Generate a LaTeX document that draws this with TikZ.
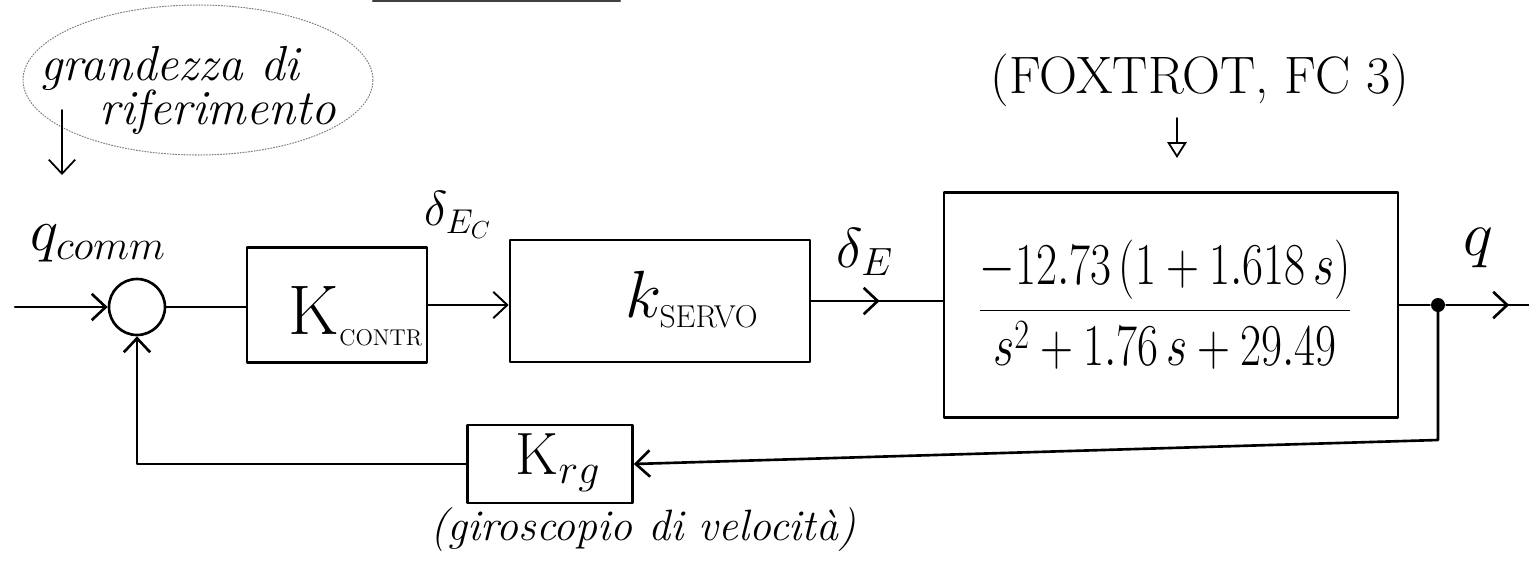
\RequirePackage{fix-cm}
\documentclass[tikz,border=0pt]{standalone}
\usepackage{fontspec}
\usetikzlibrary{arrows.meta,decorations.markings}
\newcommand\fsz[1]{\fontsize{#1}{#1}\selectfont}
\begin{document}
\begin{tikzpicture}[x=0.02cm,y=-0.02cm,
  line width=1.5pt, line cap=round, line join=round,
  blk/.style={draw, rectangle, inner sep=0pt},
  lbl/.style={inner sep=0pt},
  barb/.style={-{Straight Barb[length=8pt,width=15pt]}},
  midbarb/.style={postaction={decorate},
    decoration={markings, mark=at position #1 with {\arrow{Straight Barb[length=8pt,width=15pt]}}}},
]
\useasboundingbox (0,0) rectangle (1529,562);

% stroke along the upper edge of the sheet
\draw[line width=1.2pt, black!75] (373,1) -- (620,1);

% reference input note
\draw[gray, line width=0.6pt, densely dotted] (198,80) ellipse [x radius=3.5cm, y radius=1.5cm];
\node[lbl, font=\fsz{28}\itshape] (g1) at (170,68) {grandezza di};
\node[lbl, font=\fsz{28}\itshape] (g2) at (218,112) {riferimento};
\coordinate (r1) at (62,110);
\coordinate (r2) at (62,175);
\draw[barb, line width=1pt] (r1) -- (r2);

% summing junction and input
\node[draw, circle, minimum size=1.12cm, inner sep=0pt] (sum) at (137,307) {};
\coordinate (in) at (15,307);
\node[lbl, font=\fsz{34}] (qc) at (98,243) {$q_{comm}$};

% forward path blocks
\node[blk, minimum width=3.6cm, minimum height=2.3cm] (kc) at (337,305) {};
\node[lbl, font=\fsz{40}] (kcl) at (356,316) {$\mathrm{K}_{\hbox{\fsz{13}CONTR}}$};

\node[blk, minimum width=6cm, minimum height=2.44cm] (sv) at (660,301) {};
\node[lbl, font=\fsz{38}] (svl) at (692,300) {$k_{\hbox{\fsz{18}SERVO}}$};

\node[blk, minimum width=9.08cm, minimum height=4.5cm] (pl) at (1171,305) {};
\node[lbl, font=\fsz{26}] (tf) at (1165,305)
  {\scalebox{1}[1.3]{$\displaystyle\frac{-12.73\,(1+1.618\,s)}{s^2+1.76\,s+29.49}$}};

% feedback block
\node[blk, minimum width=3.3cm, minimum height=1.56cm] (kr) at (550,464) {};
\node[lbl, font=\fsz{34}] (krl) at (558,463) {$\mathrm{K}_{rg}$};
\node[lbl, font=\fsz{25}\itshape] (gy) at (643,530) {(giroscopio di velocità)};

% output branch point
\node[circle, fill, inner sep=0pt, minimum size=0.28cm] (dot) at (1438,305) {};
\coordinate (out) at (1529,305);
\coordinate (fb) at (1438,440);

% signal labels
\node[lbl, font=\fsz{28}] (dec) at (458,215) {$\delta_{E_C}$};
\node[lbl, font=\fsz{32}] (de) at (865,252) {$\delta_E$};
\node[lbl, font=\fsz{36}] (qo) at (1478,248) {$q$};

% aircraft note
\node[lbl, font=\fsz{30}] (fx) at (1200,80) {(FOXTROT, FC 3)};
\coordinate (fa1) at (1177,118);
\coordinate (fa2) at (1177,158);
\draw[-{Triangle[open,length=9pt,width=11pt]}, line width=1pt] (fa1) -- (fa2);

% connectors
\draw[barb] (in) -- (sum.west);
\draw (sum.east) -- (sum.east -| kc.west);
\draw[barb, line width=1.1pt] (kc.east) -- (kc.east -| sv.west);
\draw[midbarb=0.52] (sv.east) -- (sv.east -| pl.west);
\draw (pl.east |- dot) -- (dot);
\draw[midbarb=0.76] (dot) -- (out);
\draw[barb] (dot.center) -- (fb) -- (kr.east);
\draw[barb] (kr.west) -| (sum.south);
\end{tikzpicture}
\end{document}
